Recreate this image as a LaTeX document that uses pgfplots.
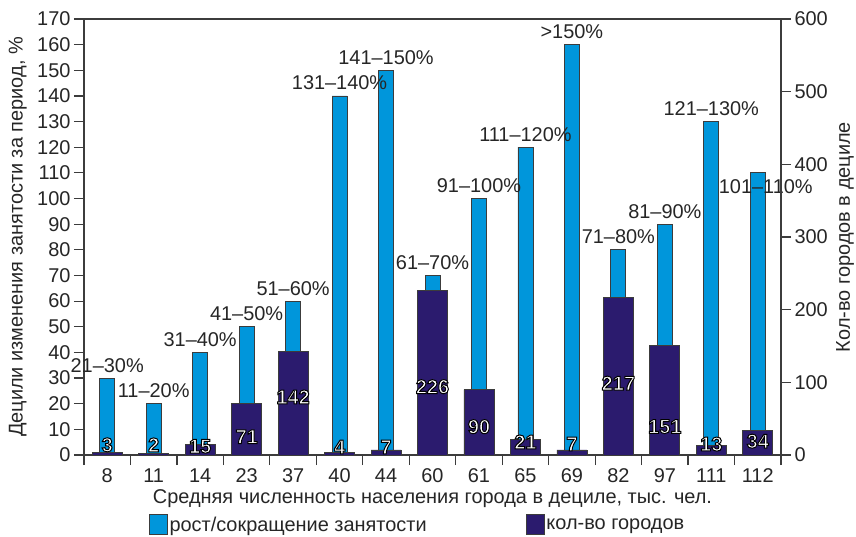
\documentclass[border=0pt]{standalone}
\usepackage{fontspec}
\setmainfont{Liberation Sans}
\usepackage{pgfplots}
\usepackage{pgfplotstable}
\pgfplotsset{compat=1.18}
\definecolor{lightbar}{RGB}{0,150,219}
\definecolor{darkbar}{RGB}{43,27,110}
\definecolor{frame}{RGB}{60,60,60}

\pgfplotsset{boxlegend/.style={legend image code/.code={\draw[##1] (0bp,-10bp) rectangle (18bp,10bp);}}}

% white glyphs with a black outline (fill + stroke render mode)
\newcommand{\outlined}[1]{\textcolor{white}{\special{pdf:literal direct 2 Tr 0 G 1 w}#1\special{pdf:literal direct 0 Tr}}}

\pgfplotstableread{
x pop pct plab px py cnt cy
0  8   30  21–30   0 6   3   14
1  11  20  11–20   0 6   2   14
2  14  40  31–40   0 6   15  12
3  23  50  41–50   0 6   71  25
4  37  60  51–60   0 6   142 80
5  40  140 131–140 0 6   4   11
6  44  150 141–150 0 6   7   11
7  60  70  61–70   0 6   226 94
8  61  100 91–100  0 6   90  39
9  65  120 111–120 0 6   21  18
10 69  160 >150    0 6   7   15
11 82  80  71–80   0 6   217 99
12 97  90  81–90   0 6   151 39
13 111 130 121–130 0 6   13  15
14 112 110 101–110 8 -21 34  19
}\data

\newcommand{\fs}{\fontsize{20}{24}\selectfont}

\begin{document}
\begin{tikzpicture}
\pgfplotsset{
  common/.style={
    scale only axis, width=697bp, height=436bp,
    xmin=-0.5, xmax=14.5, ymin=0,
    axis line style={draw=frame, line width=1.2bp},
    tick style={draw=frame, line width=1.2bp},
    tick align=outside,
    major tick length=10bp,
    ticklabel style={font=\fs, text=black!85},
    label style={font=\fs, text=black!85},
    /pgf/number format/assume math mode=true,
  },
}
\begin{axis}[common,
  ymax=170, ytick={0,10,...,170}, ytick pos=left,
  xtick={0,...,14}, xticklabels from table={\data}{pop}, xtick pos=bottom,
  major x tick style={draw=none},
  minor xtick={-0.5,0.5,...,14.5}, minor tick length=10bp,
  minor x tick style={draw=frame, line width=1.2bp},
  ylabel={Децили изменения занятости за период, \%},
  ylabel style={at={(axis description cs:-0.095,0.5)}, anchor=center},
  xlabel={Средняя численность населения города в дециле, тыс. чел.},
  xlabel style={at={(axis description cs:0.5,-0.1)}, anchor=center},
]
\addplot[ybar, bar width=15bp, fill=lightbar, draw=frame, line width=0.8bp,
  point meta=explicit symbolic,
  visualization depends on={\thisrow{px} \as \px},
  visualization depends on={\thisrow{py} \as \py},
  nodes near coords={\pgfplotspointmeta\%},
  every node near coord/.append style={font=\fs, text=black!85, anchor=base,
    inner sep=0pt, xshift=\px bp, yshift=\py bp},
] table[x=x, y=pct, meta=plab] {\data};
\end{axis}

\begin{axis}[common,
  ymax=600, ytick={0,100,...,600}, ytick pos=right,
  axis x line=none, axis y line*=right,
  ylabel={Кол-во городов в дециле},
  ylabel style={at={(axis description cs:1.092,0.5)}, anchor=center},
  legend style={at={(axis description cs:0.089,-0.16)}, anchor=west,
    draw=none, fill=none, font=\fs, text=black!85, legend columns=2,
    /tikz/every even column/.append style={column sep=98bp},
    nodes={inner sep=1.5bp}},
]
\addlegendimage{fill=lightbar, draw=frame, line width=0.8bp, boxlegend}
\addlegendentry{рост/сокращение занятости}
\addplot[ybar, bar width=30bp, fill=darkbar, draw=frame, line width=0.8bp, boxlegend]
  table[x=x, y=cnt] {\data};
\addlegendentry{кол-во городов}
\addplot[only marks, mark=*, mark size=0pt, mark options={draw=none, fill=none},
  point meta=explicit symbolic, forget plot,
  nodes near coords={\outlined{\pgfplotspointmeta}},
  every node near coord/.append style={font=\fs\bfseries, anchor=center},
] table[x=x, y=cy, meta=cnt] {\data};
\end{axis}
\pgfresetboundingbox
\path[use as bounding box] (-84bp,-82bp) rectangle (772bp,455bp);
\end{tikzpicture}
\end{document}
